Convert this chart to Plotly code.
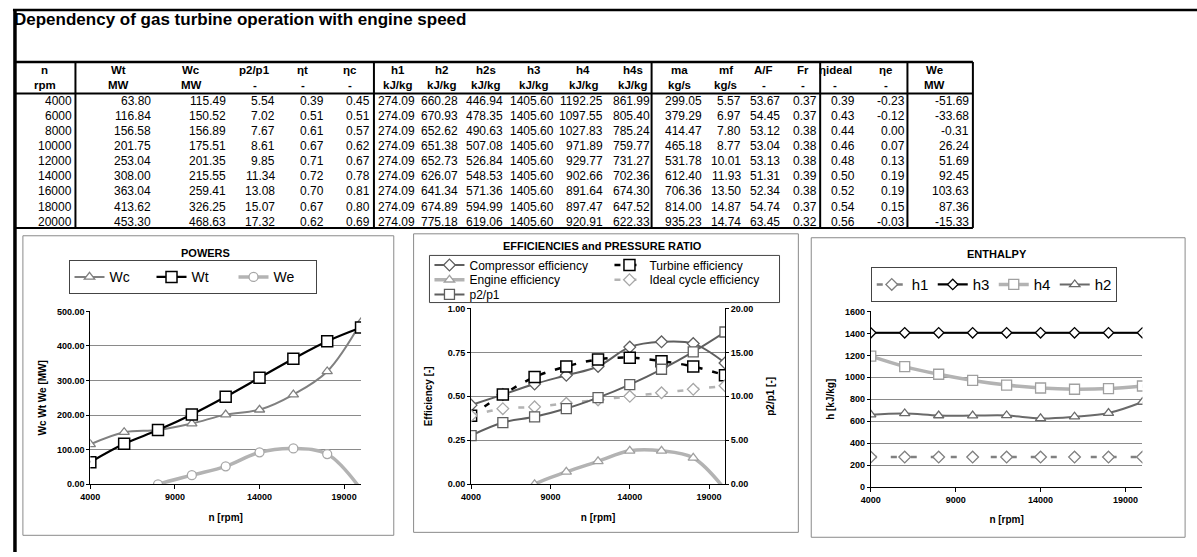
import plotly.graph_objects as go

W, H = 1197, 557


def px(x):
    return x / W


def py(y):
    return 1 - y / H


FONT = "Arial, 'Liberation Sans', sans-serif"

# ---- operating data ----
rpm = [4000, 6000, 8000, 10000, 12000, 14000, 16000, 18000, 20000]
Wt = [63.80, 116.84, 156.58, 201.75, 253.04, 308.00, 363.04, 413.62, 453.30]
Wc = [115.49, 150.52, 156.89, 175.51, 201.35, 215.55, 259.41, 326.25, 468.63]
p2p1 = [5.54, 7.02, 7.67, 8.61, 9.85, 11.34, 13.08, 15.07, 17.32]
eta_t = [0.39, 0.51, 0.61, 0.67, 0.71, 0.72, 0.70, 0.67, 0.62]
eta_c = [0.45, 0.51, 0.57, 0.62, 0.67, 0.78, 0.81, 0.80, 0.69]
h1 = [274.09, 274.09, 274.09, 274.09, 274.09, 274.09, 274.09, 274.09, 274.09]
h2 = [660.28, 670.93, 652.62, 651.38, 652.73, 626.07, 641.34, 674.89, 775.18]
h2s = [446.94, 478.35, 490.63, 507.08, 526.84, 548.53, 571.36, 594.99, 619.06]
h3 = [1405.60, 1405.60, 1405.60, 1405.60, 1405.60, 1405.60, 1405.60, 1405.60, 1405.60]
h4 = [1192.25, 1097.55, 1027.83, 971.89, 929.77, 902.66, 891.64, 897.47, 920.91]
h4s = [861.99, 805.40, 785.24, 759.77, 731.27, 702.36, 674.30, 647.52, 622.33]
ma = [299.05, 379.29, 414.47, 465.18, 531.78, 612.40, 706.36, 814.00, 935.23]
mf = [5.57, 6.97, 7.80, 8.77, 10.01, 11.93, 13.50, 14.87, 14.74]
AF = [53.67, 54.45, 53.12, 53.04, 53.13, 51.31, 52.34, 54.74, 63.45]
Fr = [0.37, 0.37, 0.38, 0.38, 0.38, 0.39, 0.38, 0.37, 0.32]
eta_ideal = [0.39, 0.43, 0.44, 0.46, 0.48, 0.50, 0.52, 0.54, 0.56]
eta_e = [-0.23, -0.12, 0.00, 0.07, 0.13, 0.19, 0.19, 0.15, -0.03]
We = [-51.69, -33.68, -0.31, 26.24, 51.69, 92.45, 103.63, 87.36, -15.33]

col_names = ["n", "Wt", "Wc", "p2/p1", "ηt", "ηc", "h1", "h2", "h2s", "h3", "h4",
             "h4s", "ma", "mf", "A/F", "Fr", "ηideal", "ηe", "We"]
col_units = ["rpm", "MW", "MW", "-", "-", "-", "kJ/kg", "kJ/kg", "kJ/kg", "kJ/kg",
             "kJ/kg", "kJ/kg", "kg/s", "kg/s", "-", "-", "-", "-", "MW"]
col_data = [rpm, Wt, Wc, p2p1, eta_t, eta_c, h1, h2, h2s, h3, h4, h4s, ma, mf, AF,
            Fr, eta_ideal, eta_e, We]

fig = go.Figure()

# ---- data table (sheet layout: header centres, value anchors, row pitch) ----
head_center = [35, 109, 183, 247, 295, 343, 391, 435, 480, 528, 578, 628, 675, 722,
               760, 800, 832, 883, 932]
value_anchor = [64, 143, 219, 268, 318, 364, 409, 453, 498, 550, 599, 646, 699, 738,
                777, 815, 840, 904, 968]
ROW0, ROW_STEP = 97.5, 15.4

for j, (name, unit, vals) in enumerate(zip(col_names, col_units, col_data)):
    for text, yc in ((name, 66.5), (unit, 81.5)):
        fig.add_annotation(text=f"<b>{text}</b>", x=px(head_center[j]), y=py(yc),
                           xref="paper", yref="paper", showarrow=False, borderpad=0,
                           xanchor="center", yanchor="middle",
                           font=dict(family=FONT, size=11.5, color="black"))
    centred = name == "ηideal"
    for i, v in enumerate(vals):
        text = f"{v:d}" if name == "n" else f"{v:.2f}"
        fig.add_annotation(text=text, x=px(value_anchor[j]), y=py(ROW0 + ROW_STEP * i),
                           xref="paper", yref="paper", showarrow=False, borderpad=0,
                           xanchor="center" if centred else "right", yanchor="middle",
                           font=dict(family=FONT, size=12, color="black"))


# ---- chart styling helpers ----
def marker(symbol, size, color, width=1.3):
    return dict(symbol=symbol, size=size, color="white", line=dict(color=color, width=width))


tickfont = dict(family=FONT, size=9, color="black", weight="bold")
titlefont = dict(family=FONT, size=10, color="black", weight="bold")
GRID = "#8a8a8a"


def xaxis_common(domain, anchor):
    return dict(domain=domain, anchor=anchor, range=[4000, 20000], tick0=4000, dtick=5000,
                tickformat="d", ticks="outside", ticklen=4, tickcolor="black", showline=True,
                linecolor="black", linewidth=1, showgrid=False, zeroline=False,
                tickfont=tickfont, title=dict(text="n [rpm]", font=titlefont, standoff=12))


def yaxis_common(domain, anchor, rng, dtick, fmt, title, standoff=8):
    return dict(domain=domain, anchor=anchor, range=rng, dtick=dtick, tickformat=fmt,
                ticks="outside", ticklen=3, tickcolor="black", showline=True,
                linecolor="black", linewidth=1, showgrid=True, gridcolor=GRID,
                gridwidth=1, zeroline=False, tickfont=tickfont,
                title=dict(text=title, font=titlefont, standoff=standoff))


# ---- POWERS ----
fig.add_trace(go.Scatter(x=rpm, y=Wc, name="Wc", xaxis="x", yaxis="y", legend="legend",
                         mode="lines+markers", line=dict(color="#808080", width=2, shape="spline"),
                         marker=marker("triangle-up", 9, "#808080")))
fig.add_trace(go.Scatter(x=rpm, y=Wt, name="Wt", xaxis="x", yaxis="y", legend="legend",
                         mode="lines+markers", line=dict(color="black", width=2.2, shape="spline"),
                         marker=marker("square", 11, "black", 1.5)))
fig.add_trace(go.Scatter(x=rpm, y=We, name="We", xaxis="x", yaxis="y", legend="legend",
                         mode="lines+markers", line=dict(color="#b3b3b3", width=3.5, shape="spline"),
                         marker=marker("circle", 9, "#a8a8a8")))

# ---- EFFICIENCIES and PRESSURE RATIO ----
fig.add_trace(go.Scatter(x=rpm, y=eta_c, name="Compressor efficiency", xaxis="x2", yaxis="y2",
                         legend="legend2", mode="lines+markers",
                         line=dict(color="#5f5f5f", width=2, shape="spline"),
                         marker=marker("diamond", 9, "#5f5f5f")))
fig.add_trace(go.Scatter(x=rpm, y=eta_t, name="Turbine efficiency", xaxis="x2", yaxis="y2",
                         legend="legend2", mode="lines+markers",
                         line=dict(color="black", width=2.5, dash="6px,10px", shape="spline"),
                         marker=marker("square", 11, "black", 1.5)))
fig.add_trace(go.Scatter(x=rpm, y=eta_e, name="Engine efficiency", xaxis="x2", yaxis="y2",
                         legend="legend4", mode="lines+markers",
                         line=dict(color="#b3b3b3", width=3.5, shape="spline"),
                         marker=marker("triangle-up", 9, "#a0a0a0")))
fig.add_trace(go.Scatter(x=rpm, y=eta_ideal, name="Ideal cycle efficiency", xaxis="x2", yaxis="y2",
                         legend="legend4", mode="lines+markers",
                         line=dict(color="#b3b3b3", width=2.5, dash="6px,10px", shape="spline"),
                         marker=marker("diamond", 9, "#a8a8a8")))
fig.add_trace(go.Scatter(x=rpm, y=p2p1, name="p2/p1", xaxis="x2", yaxis="y3",
                         legend="legend5", mode="lines+markers",
                         line=dict(color="#5f5f5f", width=2, shape="spline"),
                         marker=marker("square", 10, "#5f5f5f")))

# ---- ENTHALPY ----
fig.add_trace(go.Scatter(x=rpm, y=h1, name="h1", xaxis="x3", yaxis="y4", legend="legend3",
                         mode="lines+markers",
                         line=dict(color="#808080", width=2.5, dash="6px,14px", shape="spline"),
                         marker=marker("diamond", 9, "#808080")))
fig.add_trace(go.Scatter(x=rpm, y=h3, name="h3", xaxis="x3", yaxis="y4", legend="legend3",
                         mode="lines+markers", line=dict(color="black", width=2.2, shape="spline"),
                         marker=marker("diamond", 8, "black")))
fig.add_trace(go.Scatter(x=rpm, y=h4, name="h4", xaxis="x3", yaxis="y4", legend="legend3",
                         mode="lines+markers", line=dict(color="#b3b3b3", width=3.5, shape="spline"),
                         marker=marker("square", 10, "#a0a0a0")))
fig.add_trace(go.Scatter(x=rpm, y=h2, name="h2", xaxis="x3", yaxis="y4", legend="legend3",
                         mode="lines+markers", line=dict(color="#6a6a6a", width=2, shape="spline"),
                         marker=marker("triangle-up", 9, "#6a6a6a")))

layout = dict(
    width=W, height=H, margin=dict(l=0, r=0, t=0, b=0, pad=0),
    paper_bgcolor="white", plot_bgcolor="white", showlegend=True,
    font=dict(family=FONT, color="black"),
    title=dict(text="<b>Dependency of gas turbine operation with engine speed</b>",
               x=px(14), xanchor="left", y=py(19), yanchor="middle",
               font=dict(family=FONT, size=17, color="black")),
    xaxis=xaxis_common([px(81), px(354)], "y"),
    yaxis=yaxis_common([py(488), py(312)], "x", [0, 500], 100, ".2f", "Wc Wt We [MW]"),
    xaxis2=xaxis_common([px(465), px(721)], "y2"),
    yaxis2=yaxis_common([py(488), py(309)], "x2", [0, 1], 0.25, ".2f", "Efficiency [-]", 13),
    yaxis3=dict(overlaying="y2", anchor="x2", side="right", range=[0, 20], dtick=5,
                tickformat=".2f", ticks="outside", ticklen=3, tickcolor="black",
                showline=True, linecolor="black", linewidth=1, showgrid=False,
                zeroline=False, tickfont=tickfont,
                title=dict(text="p2/p1 [-]", font=titlefont, standoff=14)),
    xaxis3=xaxis_common([px(868), px(1142)], "y4"),
    yaxis4=yaxis_common([py(491), py(312)], "x3", [0, 1600], 200, "d", "h [kJ/kg]"),
)

leg_base = dict(bgcolor="rgba(0,0,0,0)", orientation="h", xanchor="left", yanchor="top",
                itemclick=False, itemdoubleclick=False, traceorder="normal")
layout["legend"] = dict(leg_base, x=px(59), y=py(260), bordercolor="#444", borderwidth=1,
                        bgcolor="white", entrywidth=37,
                        font=dict(family=FONT, size=14, color="black"))
layout["legend2"] = dict(leg_base, x=px(423), y=py(250), entrywidth=135,
                         font=dict(family=FONT, size=12, color="black"))
layout["legend4"] = dict(leg_base, x=px(423), y=py(265), entrywidth=135,
                         font=dict(family=FONT, size=12, color="black"))
layout["legend5"] = dict(leg_base, x=px(423), y=py(280),
                         font=dict(family=FONT, size=12, color="black"))
layout["legend3"] = dict(leg_base, x=px(868), y=py(267), bordercolor="#444", borderwidth=1,
                         bgcolor="white", entrywidth=16,
                         font=dict(family=FONT, size=15, color="black"))

fig.update_layout(**layout)


# ---- frame, table rules and panel borders ----
def line(x0, y0, x1, y1, width=2, color="black"):
    fig.add_shape(type="line", xref="paper", yref="paper", x0=px(x0), y0=py(y0),
                  x1=px(x1), y1=py(y1), line=dict(color=color, width=width))


def rect(x0, y0, x1, y1, color="#8a8a8a", width=1):
    fig.add_shape(type="rect", xref="paper", yref="paper", x0=px(x0), y0=py(y0),
                  x1=px(x1), y1=py(y1), line=dict(color=color, width=width), layer="below")


line(3, 5, 1197, 5, 2.5)
line(5, 4, 5, 557, 3.5)
line(5, 58, 971, 58, 2.5)
line(5, 90, 971, 90, 2)
line(5, 227, 971, 227, 2)
line(971, 58, 971, 227, 2)
for xs in [66, 367, 647, 817, 905]:
    line(xs, 58, xs, 227, 2)

rect(13, 235, 387, 540)
rect(407, 233, 795, 537)
rect(808, 237, 1185, 542)
rect(423, 255, 776, 303, color="#444")

for text, xc, yc in [("POWERS", 197, 253), ("EFFICIENCIES and PRESSURE RATIO", 597, 245),
                     ("ENTHALPY", 995, 254)]:
    fig.add_annotation(text=f"<b>{text}</b>", x=px(xc), y=py(yc), xref="paper", yref="paper",
                       showarrow=False, xanchor="center", yanchor="middle",
                       font=dict(family=FONT, size=11, color="black"))

fig.write_html("out.html")
